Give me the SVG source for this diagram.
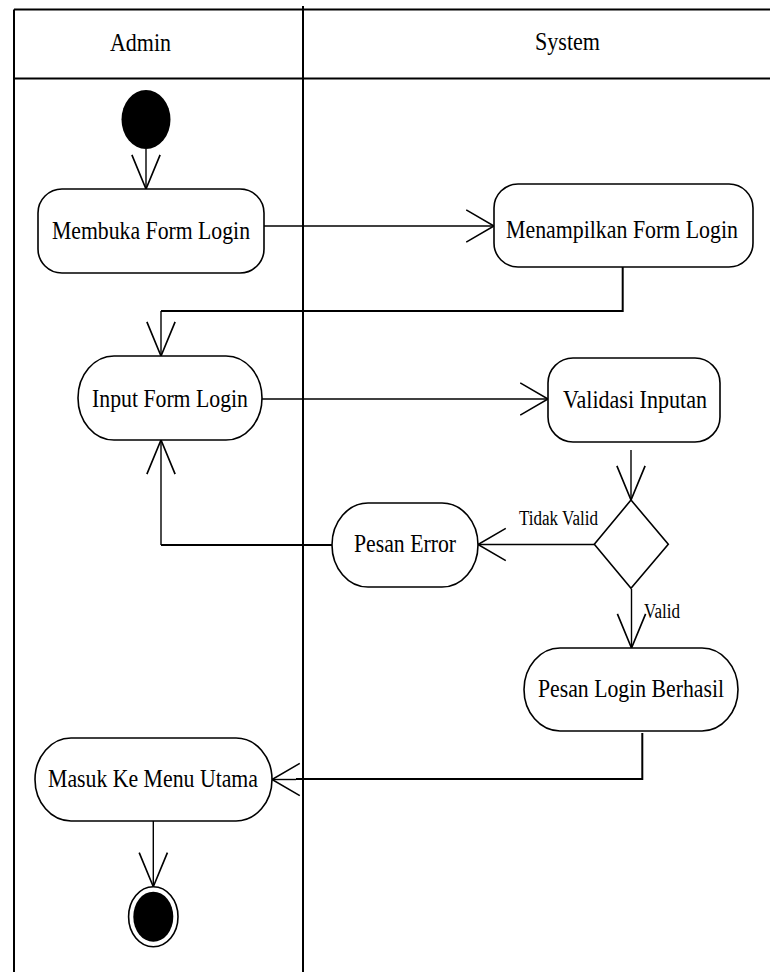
<svg xmlns="http://www.w3.org/2000/svg" width="770" height="972" viewBox="0 0 770 972">
  <style>
    .lane { stroke: #000; stroke-width: 2; fill: none; }
    .node { fill: #fff; stroke: #000; stroke-width: 1.6; }
    .edge { stroke: #000; stroke-width: 1.4; fill: none; }
    .edge-b { stroke: #000; stroke-width: 2; fill: none; }
    .lbl { font-family: "Liberation Serif", "Times New Roman", serif; font-size: 26px; fill: #000; }
    .small { font-family: "Liberation Serif", "Times New Roman", serif; font-size: 20px; fill: #000; }
  </style>
  <defs>
    <!-- open V arrowheads: vertical and horizontal variants -->
    <marker id="arrow-v" markerUnits="userSpaceOnUse" markerWidth="40" markerHeight="40" viewBox="-32 -16 34 32" refX="0" refY="0" orient="auto">
      <path d="M-29,-12 L0,0 L-29,12" fill="none" stroke="#000" stroke-width="1.4"/>
    </marker>
    <marker id="arrow-h" markerUnits="userSpaceOnUse" markerWidth="40" markerHeight="40" viewBox="-28 -18 30 36" refX="0" refY="0" orient="auto">
      <path d="M-25,-14.5 L0,0 L-25,14.5" fill="none" stroke="#000" stroke-width="1.4"/>
    </marker>
  </defs>

  <rect width="770" height="972" fill="#fff"/>

  <!-- swimlanes -->
  <g id="swimlanes">
    <line class="lane" x1="14" y1="9.5" x2="770" y2="9.5"/>
    <line class="lane" x1="14" y1="78.5" x2="770" y2="78.5"/>
    <line class="lane" x1="14" y1="9.5" x2="14" y2="972"/>
    <line class="lane" x1="303" y1="6" x2="303" y2="972"/>
    <text class="lbl" x="110" y="51" textLength="61" lengthAdjust="spacingAndGlyphs">Admin</text>
    <text class="lbl" x="535" y="50" textLength="65" lengthAdjust="spacingAndGlyphs">System</text>
  </g>

  <!-- connectors -->
  <g id="connectors">
    <line class="edge" x1="146" y1="149" x2="146" y2="189" marker-end="url(#arrow-v)"/>
    <line class="edge" x1="264" y1="226" x2="494" y2="226" marker-end="url(#arrow-h)"/>
    <path class="edge-b" d="M622.7,267 V311 H161"/>
    <line class="edge" x1="161" y1="311" x2="161" y2="356" marker-end="url(#arrow-v)"/>
    <line class="edge" x1="262" y1="399" x2="548" y2="399" marker-end="url(#arrow-h)"/>
    <line class="edge" x1="631" y1="450" x2="631" y2="500" marker-end="url(#arrow-v)"/>
    <line class="edge" x1="594" y1="544.5" x2="478" y2="544.5" marker-end="url(#arrow-h)"/>
    <text class="small" x="519" y="525" textLength="79" lengthAdjust="spacingAndGlyphs">Tidak Valid</text>
    <path class="edge-b" d="M332,545 H161"/>
    <line class="edge" x1="161" y1="545" x2="161" y2="440" marker-end="url(#arrow-v)"/>
    <line class="edge" x1="631.5" y1="589" x2="631.5" y2="648" marker-end="url(#arrow-v)"/>
    <text class="small" x="644" y="617.5" textLength="36" lengthAdjust="spacingAndGlyphs">Valid</text>
    <path class="edge-b" d="M642.3,733 V779 H296"/>
    <line class="edge" x1="296" y1="779.5" x2="272" y2="779.5" marker-end="url(#arrow-h)"/>
    <line class="edge" x1="153.3" y1="821" x2="153.3" y2="886.7" marker-end="url(#arrow-v)"/>
  </g>

  <!-- nodes -->
  <g id="start">
    <ellipse cx="146" cy="119.5" rx="24.5" ry="29.5" fill="#000"/>
  </g>

  <g id="membuka-form-login">
    <rect class="node" x="38" y="189" width="226" height="84" rx="24" ry="24"/>
    <text class="lbl" x="52" y="239" textLength="198" lengthAdjust="spacingAndGlyphs">Membuka Form Login</text>
  </g>

  <g id="menampilkan-form-login">
    <rect class="node" x="494" y="184" width="259" height="83" rx="24" ry="24"/>
    <!-- condensed with a horizontal scale so the label stays inside its box -->
    <text class="lbl" transform="translate(506 238) scale(0.841 1)" x="0" y="0">Menampilkan Form Login</text>
  </g>

  <g id="input-form-login">
    <rect class="node" x="78" y="356" width="184" height="84" rx="36" ry="42"/>
    <text class="lbl" x="92" y="407" textLength="156" lengthAdjust="spacingAndGlyphs">Input Form Login</text>
  </g>

  <g id="validasi-inputan">
    <rect class="node" x="548" y="358" width="172" height="84" rx="25" ry="25"/>
    <text class="lbl" x="563" y="408" textLength="144" lengthAdjust="spacingAndGlyphs">Validasi Inputan</text>
  </g>

  <g id="decision">
    <polygon class="node" points="631,500 668.3,544.3 631,588.3 594.3,544.3" stroke-width="2"/>
  </g>

  <g id="pesan-error">
    <rect class="node" x="332" y="503" width="146" height="84" rx="36" ry="42"/>
    <text class="lbl" x="354" y="552" textLength="102" lengthAdjust="spacingAndGlyphs">Pesan Error</text>
  </g>

  <g id="pesan-login-berhasil">
    <rect class="node" x="524" y="648" width="214" height="83" rx="36" ry="41.5"/>
    <text class="lbl" x="538" y="697" textLength="186" lengthAdjust="spacingAndGlyphs">Pesan Login Berhasil</text>
  </g>

  <g id="masuk-ke-menu-utama">
    <rect class="node" x="35" y="738" width="237" height="83" rx="36" ry="41.5"/>
    <text class="lbl" x="48" y="787" textLength="210" lengthAdjust="spacingAndGlyphs">Masuk Ke Menu Utama</text>
  </g>

  <g id="end">
    <ellipse cx="153.3" cy="916.7" rx="24.7" ry="30" fill="#fff" stroke="#000" stroke-width="1.6"/>
    <ellipse cx="153.3" cy="916.7" rx="20" ry="25" fill="#000"/>
  </g>
</svg>
